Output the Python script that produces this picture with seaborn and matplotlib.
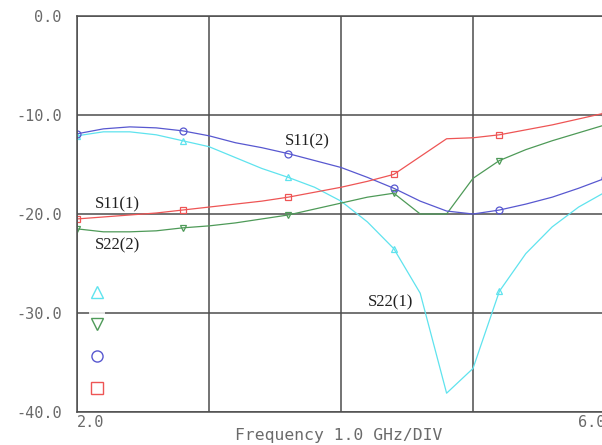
import numpy as np
import pandas as pd
import matplotlib
matplotlib.use("Agg")
import matplotlib.pyplot as plt
import seaborn as sns
from matplotlib.lines import Line2D

# ---- data ----
freq = [2.0, 2.2, 2.4, 2.6, 2.8, 3.0, 3.2, 3.4, 3.6, 3.8, 4.0,
        4.2, 4.4, 4.6, 4.8, 5.0, 5.2, 5.4, 5.6, 5.8, 6.0]
s22_1 = [-12.1, -11.7, -11.7, -12.0, -12.6, -13.2, -14.3, -15.4, -16.3, -17.3, -18.7,
         -20.8, -23.5, -28.0, -38.1, -35.6, -27.8, -24.0, -21.3, -19.3, -17.8]
s22_2 = [-21.5, -21.8, -21.8, -21.7, -21.4, -21.2, -20.9, -20.5, -20.1, -19.5, -18.9,
         -18.3, -17.9, -20.0, -20.0, -16.4, -14.6, -13.5, -12.6, -11.8, -11.0]
s11_2 = [-11.9, -11.4, -11.2, -11.3, -11.6, -12.1, -12.8, -13.3, -13.9, -14.6, -15.3,
         -16.3, -17.4, -18.7, -19.7, -20.0, -19.6, -19.0, -18.3, -17.4, -16.4]
s11_1 = [-20.5, -20.3, -20.1, -19.9, -19.6, -19.3, -19.0, -18.7, -18.3, -17.8, -17.3,
         -16.7, -16.0, -14.2, -12.4, -12.3, -12.0, -11.5, -11.0, -10.4, -9.8]

series_names = ["S22(1)", "S22(2)", "S11(2)", "S11(1)"]
series_vals = [s22_1, s22_2, s11_2, s11_1]
colors = ["#5fe3ee", "#4e9a58", "#5858d0", "#ee5555"]
markers = ["^", "v", "o", "s"]

ytick_vals = [0, -10, -20, -30, -40]
ytick_labels = ["0.0", "-10.0", "-20.0", "-30.0", "-40.0"]
xtick_vals = [2, 3, 4, 5, 6]
xtick_labels = ["2.0", "", "", "", "6.0"]
xlabel = "Frequency 1.0 GHz/DIV"

# label annotations: (text, x, y)
annotations = [("S11(2)", 3.576, -12.7), ("S11(1)", 2.136, -19.0),
               ("S22(2)", 2.136, -23.2), ("S22(1)", 4.205, -28.9)]

df = pd.DataFrame({"freq": np.tile(freq, len(series_names)),
                   "dB": np.concatenate(series_vals),
                   "trace": np.repeat(series_names, len(freq))})

sns.set_style("white")
fig = plt.figure(figsize=(6.02, 4.45), dpi=100)
ax = fig.add_axes([77 / 602, 33 / 445, 528 / 602, 396 / 445])

sns.lineplot(data=df, x="freq", y="dB", hue="trace", hue_order=series_names,
             palette=colors, style="trace", style_order=series_names,
             markers=markers, dashes=False, markersize=5, markeredgewidth=0.9,
             markerfacecolor="none", linewidth=0.9, legend=False, ax=ax,
             markevery=4)
for ln, c in zip(ax.get_lines(), colors):
    ln.set_markerfacecolor("none")
    ln.set_markeredgecolor(c)

ax.set_xlim(2, 6)
ax.set_ylim(-40, 0)
gridc = "#4d4d4d"
ax.set_xticks(xtick_vals)
ax.set_xticklabels(xtick_labels)
ax.set_yticks(ytick_vals)
ax.set_yticklabels(ytick_labels)
ax.grid(True, color=gridc, linewidth=1.1)
ax.set_axisbelow(True)
for sp in ["left", "bottom", "top", "right"]:
    ax.spines[sp].set_color(gridc)
    ax.spines[sp].set_linewidth(1.1)

mono = ["DejaVu Sans Mono"]
tick_col = "#6a6a6a"
ax.tick_params(axis="y", length=3, width=1.0, color=gridc, pad=8,
               labelsize=11, labelcolor=tick_col)
ax.tick_params(axis="x", length=0, pad=2, labelsize=11, labelcolor=tick_col)
for lab in ax.get_yticklabels() + ax.get_xticklabels():
    lab.set_fontfamily(mono)
xl = ax.get_xticklabels()
xl[0].set_ha("left")
xl[-1].set_ha("right")

ax.set_xlabel(xlabel, fontfamily=mono, fontsize=11.8, color=tick_col)
ax.set_ylabel("")
ax.xaxis.set_label_coords(0.495, -0.041)

for txt, x, y in annotations:
    ax.text(x, y, txt, fontfamily="Liberation Serif", fontsize=12,
            color="#222222", ha="left", va="center")

handles = [Line2D([], [], linestyle="none", marker=m, markersize=8,
                  markerfacecolor="none", markeredgecolor=c, markeredgewidth=1.0)
           for m, c in zip(markers, colors)]
leg = ax.legend(handles, ["", "", "", ""], loc="center",
                bbox_to_anchor=(0.038, 0.172), frameon=True, fontsize=10,
                handlelength=1.0, handleheight=2.2, labelspacing=0.62,
                handletextpad=0.0, borderpad=0.1, borderaxespad=0)
leg.get_frame().set_facecolor("white")
leg.get_frame().set_edgecolor("none")

fig.savefig("out.png", dpi=100)
